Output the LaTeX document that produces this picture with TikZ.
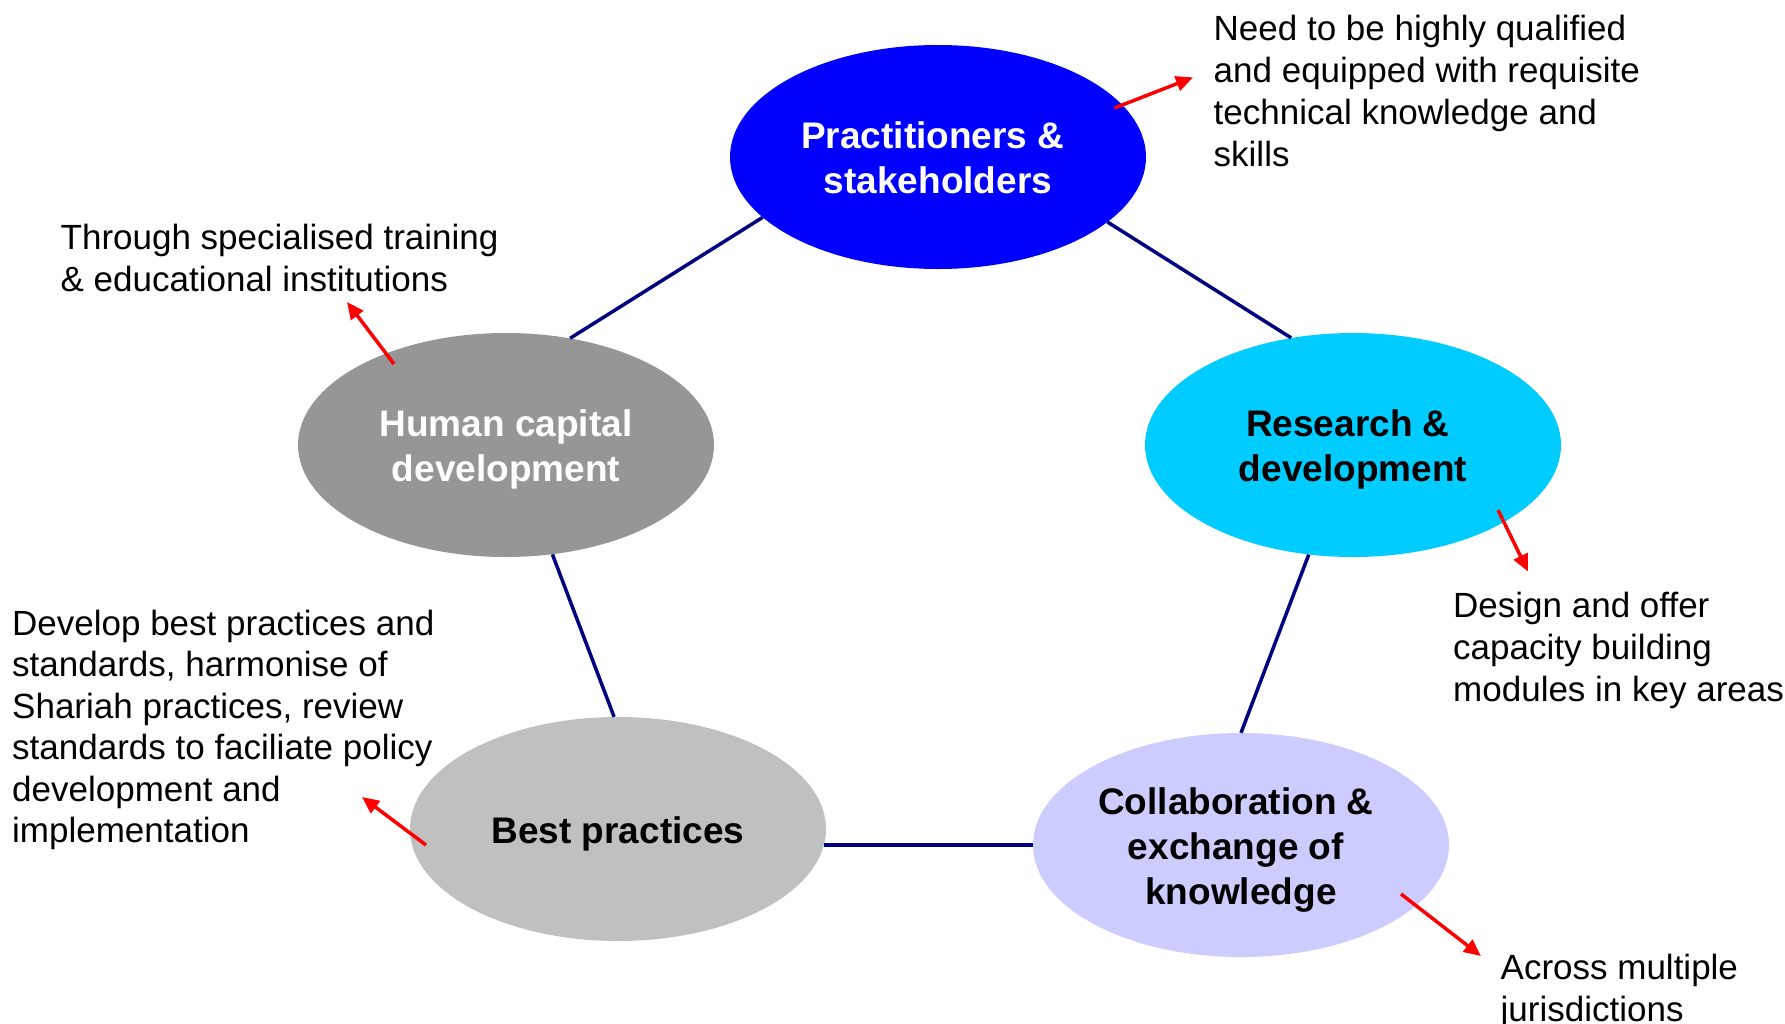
\documentclass[tikz,border=0pt]{standalone}
\usepackage{fontspec}
\setmainfont{Liberation Sans}
\usetikzlibrary{shapes.geometric,arrows.meta}
\definecolor{navyline}{HTML}{000080}
\definecolor{pblue}{HTML}{0000FF}
\definecolor{hcgray}{HTML}{969696}
\definecolor{rdcyan}{HTML}{00CCFF}
\definecolor{bpgray}{HTML}{C0C0C0}
\definecolor{colav}{HTML}{CCCCFF}
\definecolor{arrowred}{HTML}{FF0000}
\newcommand\bubstrut{\rule[-8.5pt]{0pt}{45pt}}
\newcommand\trsp{\kern0.278em}
\begin{document}
\begin{tikzpicture}[x=1pt,y=-1pt,
  bubble/.style={ellipse, draw=none, minimum width=416pt, minimum height=224pt, inner sep=0pt, align=center, font=\fontsize{37}{45}\selectfont\bfseries},
  note/.style={anchor=north west, inner sep=0pt, align=left, font=\fontsize{35}{42}\selectfont},
  link/.style={draw=navyline, line width=3.5pt},
  callout/.style={draw=arrowred, line width=3.5pt, -{Triangle[length=17pt,width=15pt]}}]
\useasboundingbox (0,0) rectangle (1785,1023);
\fill[white] (0,0) rectangle (1785,1023);

% ellipses
\node[bubble, fill=pblue, text=white] (P) at (938,157) {\bubstrut Practitioners \&\trsp\\\bubstrut stakeholders};
\node[bubble, fill=hcgray, text=white] (H) at (506,445) {\bubstrut Human capital\\\bubstrut development};
\node[bubble, fill=rdcyan, text=black] (R) at (1353,445) {\bubstrut Research \&\trsp\\\bubstrut development};
\node[bubble, fill=bpgray, text=black] (B) at (618,829) {\bubstrut Best practices};
\node[bubble, fill=colav, text=black] (C) at (1241,845) {\bubstrut Collaboration \&\trsp\\\bubstrut exchange of\trsp\\\bubstrut knowledge};

% connecting lines
\draw[link] (P.-161.8) -- (H.59.5);
\draw[link] (P.-21.3) -- (R.120.1);
\draw[link] (H.-67.9) -- (B.92);
\draw[link] (R.-112.1) -- (C.90);
\draw[link] (C.west -| B.-4.4) -- (C.west);

% notes
\node[note] (n1) at (1213.5,10.6) {\strut Need to be highly qualified\\and equipped with requisite\\technical knowledge and\\skills};
\node[note] (n2) at (60.5,219.6) {\strut Through specialised training\\\& educational institutions};
\node[note] (n3) at (1453,587.6) {\strut Design and offer\\capacity building\\modules in key areas};
\node[note, font=\fontsize{35}{41.5}\selectfont] (n4) at (12,606) {\strut Develop best practices and\\standards, harmonise of\\Shariah practices, review\\standards to faciliate policy\\development and\\implementation};
\node[note] (n5) at (1500.5,949.5) {\strut Across multiple\\jurisdictions};

% red callout arrows
\coordinate (a1s) at (1114.5,108); \coordinate (a1e) at (1193,77.4);
\coordinate (a2s) at (394,364);    \coordinate (a2e) at (347,302);
\coordinate (a3s) at (1498,510);   \coordinate (a3e) at (1528,571.5);
\coordinate (a4s) at (426,845);    \coordinate (a4e) at (362,797);
\coordinate (a5s) at (1401,894);   \coordinate (a5e) at (1481,956);
\draw[callout] (a1s) -- (a1e);
\draw[callout] (a2s) -- (a2e);
\draw[callout] (a3s) -- (a3e);
\draw[callout] (a4s) -- (a4e);
\draw[callout] (a5s) -- (a5e);
\end{tikzpicture}
\end{document}
